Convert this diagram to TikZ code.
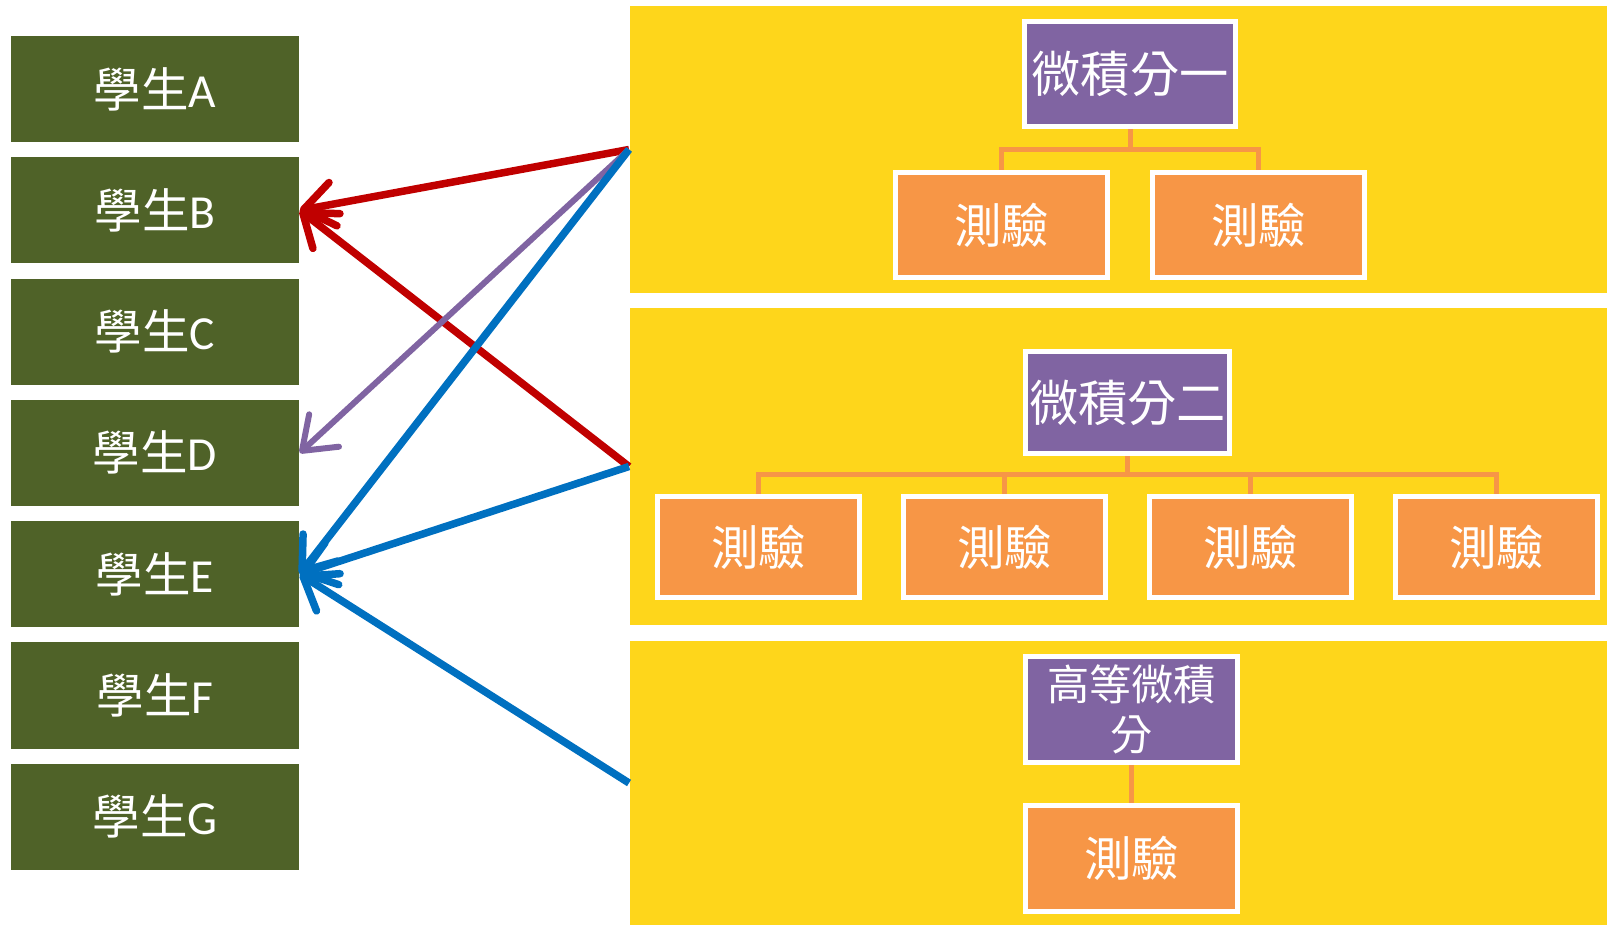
\documentclass[tikz,border=0pt]{standalone}
\usepackage{fontspec}
\setmainfont{Carlito}
\newfontfamily\cjk{Noto Sans CJK TC}
\usetikzlibrary{arrows.meta}
\usepackage{xcolor}
\definecolor{olivebox}{HTML}{4F6228}
\definecolor{panelyellow}{HTML}{FED61B}
\definecolor{coursepurple}{HTML}{8064A2}
\definecolor{quizorange}{HTML}{F79646}
\definecolor{arrowred}{HTML}{C00000}
\definecolor{arrowblue}{HTML}{0070C0}

\begin{document}
\begin{tikzpicture}[x=0.01cm, y=-0.01cm]

\tikzset
  {
    student/.style=  {fill=olivebox, text=white, minimum width=2.88cm, minimum height=1.06cm, font=\fontsize{13.5}{15}\selectfont},
    panel/.style=    {fill=panelyellow, minimum width=9.77cm, inner sep=0},
    course/.style=   {fill=coursepurple, draw=white, line width=0.05cm, text=white, inner sep=1pt, align=center, font=\cjk\fontsize{14}{17}\selectfont},
    quiz/.style=     {fill=quizorange, draw=white, line width=0.05cm, text=white, minimum width=2.12cm, minimum height=1.05cm, font=\cjk\fontsize{13.5}{16}\selectfont},
    link/.style=     {quizorange, line width=0.05cm},
    pick/.style=     {line width=0.075cm, -{Straight Barb[length=0.3cm, width=0.44cm, round]}}
  }

\useasboundingbox (0,0) rectangle (1607,925);

% students
\foreach \s [count=\i from 0] in {A,...,G}
\node[student] (s\s) at (155,89+121.3*\i) {{\cjk 學生}\s};

% panels
\node[panel, minimum height=2.87cm] (panelI) at (1118.5,149.5) {};
\node[panel, minimum height=3.17cm] (panelII) at (1118.5,466.5) {};
\node[panel, minimum height=2.84cm] (panelIII) at (1118.5,783) {};

\begin{scope}
\node[course, minimum width=2.11cm, minimum height=1.05cm] (calcI) at (1130,74) {微積分一};
\node[quiz] (quizIa) at (1001.5,225) {測驗};
\node[quiz] (quizIb) at (1258.5,225) {測驗};

\draw[link] (calcI.south) -- ++(0,20) -| (quizIa.north);
\draw[link] (calcI.south) -- ++(0,20) -| (quizIb.north);
\end{scope}

\begin{scope}
\node[course, minimum width=2.04cm, minimum height=1.02cm] (calcII) at (1127.5,402.5) {微積分二};

\foreach \x [count=\i] in {758.5,1004.5,1250.5,1496.5}
\node[quiz, minimum width=2.02cm, minimum height=1.01cm] (quizII\i) at (\x,547) {測驗};

\foreach \i in {1,...,4}
\draw[link] (calcII.south) -- ++(0,18) -| (quizII\i.north);
\end{scope}

\begin{scope}
\node[course, minimum width=2.12cm, minimum height=1.06cm, font=\cjk\fontsize{12}{14}\selectfont] (calcIII) at (1131.5,709.5) {高等微積\\分};
\node[quiz] (quizIII) at (1131.5,858.5) {測驗};

\draw[link] (calcIII.south) -- (quizIII.north);
\end{scope}

% arrows
\draw[pick, arrowred] (panelI.west) -- (sB.east);
\draw[pick, arrowred] (panelII.west) -- (sB.east);
\draw[pick, coursepurple, line width=0.06cm] (panelI.west) -- (sD.east);
\draw[pick, arrowblue] (panelI.west) -- (sE.east);
\draw[pick, arrowblue] (panelII.west) -- (sE.east);
\draw[pick, arrowblue] (panelIII.west) -- (sE.east);

\end{tikzpicture}
\end{document}
